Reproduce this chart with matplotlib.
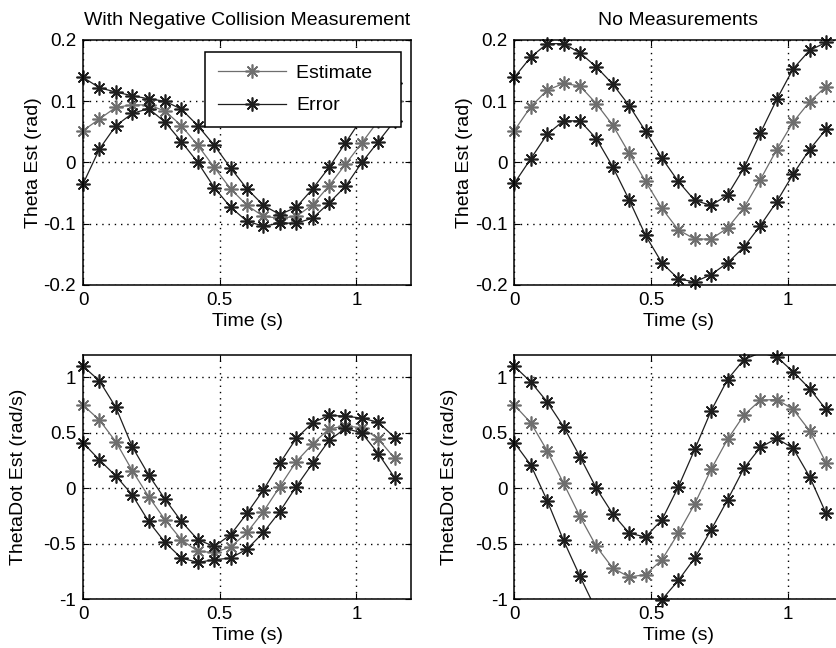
import matplotlib.pyplot as plt
from matplotlib.lines import Line2D

plt.rcParams['font.family'] = ['Liberation Sans', 'DejaVu Sans']
plt.rcParams['axes.unicode_minus'] = False   # matlab style "-0.1"
plt.rcParams['font.size'] = 13.5

time = [0.00, 0.06, 0.12, 0.18, 0.24, 0.30, 0.36, 0.42, 0.48, 0.54,
        0.60, 0.66, 0.72, 0.78, 0.84, 0.90, 0.96, 1.02, 1.08, 1.14]

# top left: theta, with negative collision measurement
theta_est_neg = [0.052, 0.071, 0.090, 0.094, 0.094, 0.084, 0.060, 0.028, -0.008, -0.043,
                 -0.070, -0.088, -0.091, -0.088, -0.069, -0.038, -0.003, 0.032, 0.068, 0.100]
theta_hi_neg = [0.139, 0.122, 0.115, 0.109, 0.104, 0.100, 0.087, 0.060, 0.028, -0.009,
                -0.043, -0.070, -0.085, -0.073, -0.043, -0.008, 0.032, 0.072, 0.105, 0.130]
theta_lo_neg = [-0.035, 0.022, 0.060, 0.080, 0.088, 0.066, 0.034, 0.000, -0.041, -0.073,
                -0.096, -0.104, -0.099, -0.099, -0.091, -0.066, -0.039, 0.000, 0.034, 0.068]

# top right: theta, no measurements
theta_est_none = [0.052, 0.091, 0.118, 0.129, 0.125, 0.096, 0.061, 0.015, -0.031, -0.075,
                  -0.110, -0.125, -0.125, -0.107, -0.074, -0.028, 0.021, 0.066, 0.099, 0.124]
theta_hi_none = [0.139, 0.172, 0.194, 0.194, 0.179, 0.156, 0.128, 0.093, 0.051, 0.007,
                 -0.031, -0.062, -0.070, -0.053, -0.009, 0.048, 0.103, 0.153, 0.183, 0.196]
theta_lo_none = [-0.034, 0.006, 0.046, 0.068, 0.068, 0.039, -0.007, -0.061, -0.119, -0.164,
                 -0.190, -0.195, -0.183, -0.164, -0.138, -0.103, -0.064, -0.019, 0.021, 0.054]

# bottom left: thetadot, with negative collision measurement
dot_est_neg = [0.749, 0.614, 0.419, 0.159, -0.075, -0.284, -0.464, -0.569, -0.578, -0.530,
               -0.398, -0.210, 0.015, 0.240, 0.398, 0.535, 0.560, 0.545, 0.445, 0.269]
dot_hi_neg = [1.099, 0.967, 0.728, 0.374, 0.120, -0.099, -0.299, -0.464, -0.524, -0.419,
              -0.225, -0.015, 0.225, 0.449, 0.590, 0.655, 0.650, 0.630, 0.595, 0.456]
dot_lo_neg = [0.410, 0.254, 0.111, -0.060, -0.299, -0.488, -0.629, -0.668, -0.644, -0.629,
              -0.548, -0.398, -0.210, 0.015, 0.225, 0.430, 0.540, 0.497, 0.312, 0.095]

# bottom right: thetadot, no measurements (some points run off the axes)
dot_est_none = [0.749, 0.590, 0.338, 0.045, -0.254, -0.524, -0.719, -0.799, -0.778, -0.644,
                -0.404, -0.141, 0.171, 0.440, 0.659, 0.793, 0.799, 0.710, 0.518, 0.231]
dot_hi_none = [1.099, 0.958, 0.778, 0.554, 0.284, 0.000, -0.231, -0.404, -0.440, -0.284,
               0.012, 0.350, 0.698, 0.979, 1.159, 1.220, 1.183, 1.048, 0.898, 0.710]
dot_lo_none = [0.410, 0.210, -0.111, -0.470, -0.793, -1.100, -1.210, -1.200, -1.120, -1.003,
               -0.830, -0.629, -0.374, -0.105, 0.180, 0.368, 0.449, 0.359, 0.105, -0.225]

xticks = [0, 0.5, 1]
xticklabels = ['0', '0.5', '1']
theta_ticks = [-0.2, -0.1, 0, 0.1, 0.2]
theta_ticklabels = ['-0.2', '-0.1', '0', '0.1', '0.2']
dot_ticks = [-1, -0.5, 0, 0.5, 1]
dot_ticklabels = ['-1', '-0.5', '0', '0.5', '1']

dark = '#1e1e1e'
gray = '#6e6e6e'
star = (8, 2, 0)   # 8 spoke asterisk like matlab '*'


def draw(ax, est, hi, lo, ylim):
    for vals, col in [(est, gray), (hi, dark), (lo, dark)]:
        ax.plot(time, vals, '-', color=col, lw=0.9)
        # markers only where the point is on the axes, but not cut by the spine
        tt = [t for t, v in zip(time, vals) if ylim[0] - 0.01 <= v <= ylim[1] + 0.01]
        vv = [v for v in vals if ylim[0] - 0.01 <= v <= ylim[1] + 0.01]
        ax.plot(tt, vv, ls='none', marker=star, ms=10, mew=1.2, color=col, clip_on=False)
    ax.set_xlim(0, 1.2)
    ax.set_ylim(*ylim)
    ax.set_xticks(xticks)
    ax.set_xticklabels(xticklabels)
    ax.grid(True, color='black', ls=(0, (1, 3.5)), lw=1)
    ax.tick_params(direction='in', length=4, top=True, right=True, pad=5)
    for s in ax.spines.values():
        s.set_linewidth(1.1)
    ax.set_xlabel('Time (s)', labelpad=3, fontsize=14)


fig = plt.figure(figsize=(8.37, 6.48), dpi=100)
ax1 = fig.add_axes([0.0992, 0.5602, 0.3919, 0.3781])
ax2 = fig.add_axes([0.6145, 0.5602, 0.3919, 0.3781])
ax3 = fig.add_axes([0.0992, 0.0752, 0.3919, 0.3770])
ax4 = fig.add_axes([0.6145, 0.0752, 0.3919, 0.3770])

draw(ax1, theta_est_neg, theta_hi_neg, theta_lo_neg, (-0.2, 0.2))
draw(ax2, theta_est_none, theta_hi_none, theta_lo_none, (-0.2, 0.2))
draw(ax3, dot_est_neg, dot_hi_neg, dot_lo_neg, (-1, 1.2))
draw(ax4, dot_est_none, dot_hi_none, dot_lo_none, (-1, 1.2))

for ax in [ax1, ax2]:
    ax.set_yticks(theta_ticks)
    ax.set_yticklabels(theta_ticklabels)
    ax.set_ylabel('Theta Est (rad)', fontsize=14)
    ax.yaxis.set_label_coords(-0.125, 0.5)
for ax in [ax3, ax4]:
    ax.set_yticks(dot_ticks)
    ax.set_yticklabels(dot_ticklabels)
    ax.set_ylabel('ThetaDot Est (rad/s)', fontsize=14)
    ax.yaxis.set_label_coords(-0.172, 0.5)

ax1.set_title('With Negative Collision Measurement', fontsize=14, pad=10.5)
ax2.set_title('No Measurements', fontsize=14, pad=10.5)

handles = [Line2D([], [], color=gray, lw=0.9, marker=star, ms=10, mew=1.2),
           Line2D([], [], color=dark, lw=0.9, marker=star, ms=10, mew=1.2)]
# trailing spaces give the wide right margin of the matlab legend box
leg = ax1.legend(handles, ['Estimate   ', 'Error'], loc='upper right', fontsize=14,
                 bbox_to_anchor=(0.970, 0.951), borderaxespad=0, fancybox=False,
                 framealpha=1, edgecolor='black', handlelength=3.5, handletextpad=0.55,
                 labelspacing=0.75, borderpad=0.65)
leg.get_frame().set_linewidth(1.1)

plt.savefig('out.png', dpi=100)
